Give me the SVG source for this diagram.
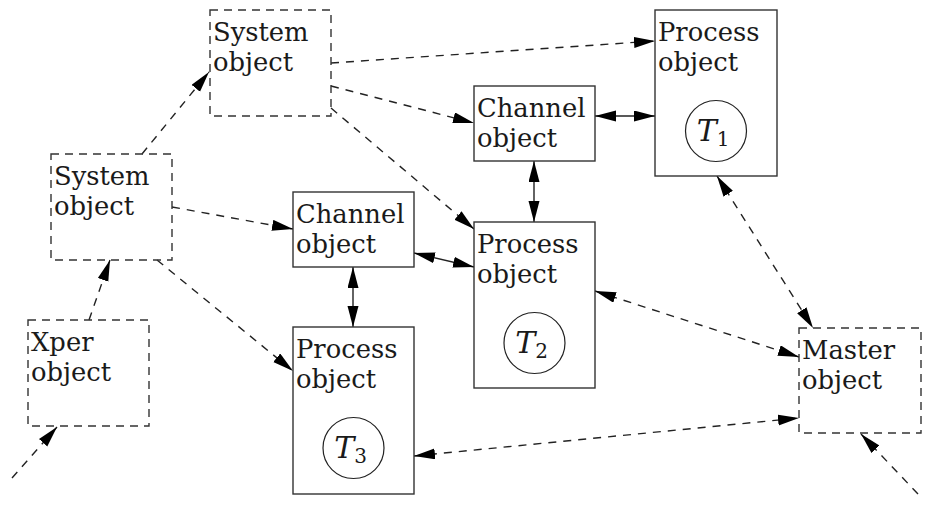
<svg xmlns="http://www.w3.org/2000/svg" width="925" height="512" viewBox="0 0 925 512">
  <style>
    .box { fill: #ffffff; stroke: #333333; stroke-width: 1.4; }
    .dbox { fill: none; stroke: #333333; stroke-width: 1.4; stroke-dasharray: 8 6; }
    .lbl { font-family: "DejaVu Serif", "Liberation Serif", serif; font-size: 25.8px; fill: #1a1a1a; }
    .tv { font-family: "DejaVu Serif", "Liberation Serif", serif; font-size: 30px; font-style: italic; fill: #1a1a1a; }
    .sub { font-size: 20px; font-style: normal; }
    .ring { fill: none; stroke: #222222; stroke-width: 1.2; }
    .dash { fill: none; stroke: #222222; stroke-width: 1.4; stroke-dasharray: 8 7; }
    .solid { fill: none; stroke: #222222; stroke-width: 1.4; }
    .end { marker-end: url(#tip); }
    .both { marker-start: url(#tipStart); marker-end: url(#tip); }
  </style>
  <defs>
    <marker id="tip" markerUnits="userSpaceOnUse" markerWidth="22" markerHeight="12" refX="21" refY="5.5" orient="auto">
      <path d="M0,0 L21,5.5 L0,11 Z" fill="#000000" stroke="none"/>
    </marker>
    <marker id="tipStart" markerUnits="userSpaceOnUse" markerWidth="22" markerHeight="12" refX="21" refY="5.5" orient="auto-start-reverse">
      <path d="M0,0 L21,5.5 L0,11 Z" fill="#000000" stroke="none"/>
    </marker>
  </defs>

  <!-- connectors -->
  <g id="connectors">
    <line class="dash end" x1="12" y1="478" x2="57" y2="427"/>
    <line class="dash end" x1="89" y1="320" x2="110" y2="260"/>
    <line class="dash end" x1="142" y1="154" x2="209" y2="72"/>
    <line class="dash end" x1="172" y1="207" x2="293" y2="229"/>
    <line class="dash end" x1="157" y1="260" x2="293" y2="371"/>
    <line class="dash end" x1="331" y1="63" x2="655" y2="41"/>
    <line class="dash end" x1="331" y1="86" x2="474" y2="123"/>
    <line class="dash end" x1="331" y1="108" x2="474" y2="229"/>
    <line class="solid both" x1="595" y1="116" x2="655" y2="116"/>
    <line class="solid both" x1="534" y1="161" x2="534" y2="222"/>
    <line class="solid both" x1="414" y1="253" x2="474" y2="267"/>
    <line class="solid both" x1="353" y1="267" x2="353" y2="327"/>
    <line class="dash both" x1="717" y1="176" x2="813" y2="328"/>
    <line class="dash both" x1="595" y1="291" x2="799" y2="357"/>
    <line class="dash both" x1="414" y1="456" x2="799" y2="418"/>
    <line class="dash end" x1="918" y1="494" x2="861" y2="434"/>
  </g>

  <!-- system objects -->
  <g id="system-top">
    <rect class="dbox" x="210" y="10" width="121" height="106"/>
    <text class="lbl" x="213" y="41">System</text>
    <text class="lbl" x="213" y="71">object</text>
  </g>
  <g id="system-left">
    <rect class="dbox" x="51" y="154" width="121" height="106"/>
    <text class="lbl" x="54" y="185">System</text>
    <text class="lbl" x="54" y="215">object</text>
  </g>
  <g id="xper">
    <rect class="dbox" x="28" y="320" width="121" height="106"/>
    <text class="lbl" x="31" y="351">Xper</text>
    <text class="lbl" x="31" y="381">object</text>
  </g>

  <!-- channel objects -->
  <g id="channel-top">
    <rect class="box" x="474" y="86" width="121" height="75"/>
    <text class="lbl" x="477" y="117">Channel</text>
    <text class="lbl" x="477" y="147">object</text>
  </g>
  <g id="channel-left">
    <rect class="box" x="293" y="192" width="121" height="75"/>
    <text class="lbl" x="296" y="223">Channel</text>
    <text class="lbl" x="296" y="253">object</text>
  </g>

  <!-- process objects -->
  <g id="process-1">
    <rect class="box" x="655" y="10" width="122" height="166"/>
    <text class="lbl" x="658" y="41">Process</text>
    <text class="lbl" x="658" y="71">object</text>
    <circle class="ring" cx="716" cy="131" r="30.5"/>
    <text class="tv" x="713" y="141" text-anchor="middle">T<tspan class="sub" dy="5">1</tspan></text>
  </g>
  <g id="process-2">
    <rect class="box" x="474" y="222" width="121" height="166"/>
    <text class="lbl" x="477" y="253">Process</text>
    <text class="lbl" x="477" y="283">object</text>
    <circle class="ring" cx="534.5" cy="343" r="30.5"/>
    <text class="tv" x="531.5" y="353" text-anchor="middle">T<tspan class="sub" dy="5">2</tspan></text>
  </g>
  <g id="process-3">
    <rect class="box" x="293" y="327" width="121" height="167"/>
    <text class="lbl" x="296" y="358">Process</text>
    <text class="lbl" x="296" y="388">object</text>
    <circle class="ring" cx="353.5" cy="448" r="30.5"/>
    <text class="tv" x="350.5" y="458" text-anchor="middle">T<tspan class="sub" dy="5">3</tspan></text>
  </g>

  <!-- master object -->
  <g id="master">
    <rect class="dbox" x="799" y="328" width="122" height="105"/>
    <text class="lbl" x="802" y="359">Master</text>
    <text class="lbl" x="802" y="389">object</text>
  </g>
</svg>
